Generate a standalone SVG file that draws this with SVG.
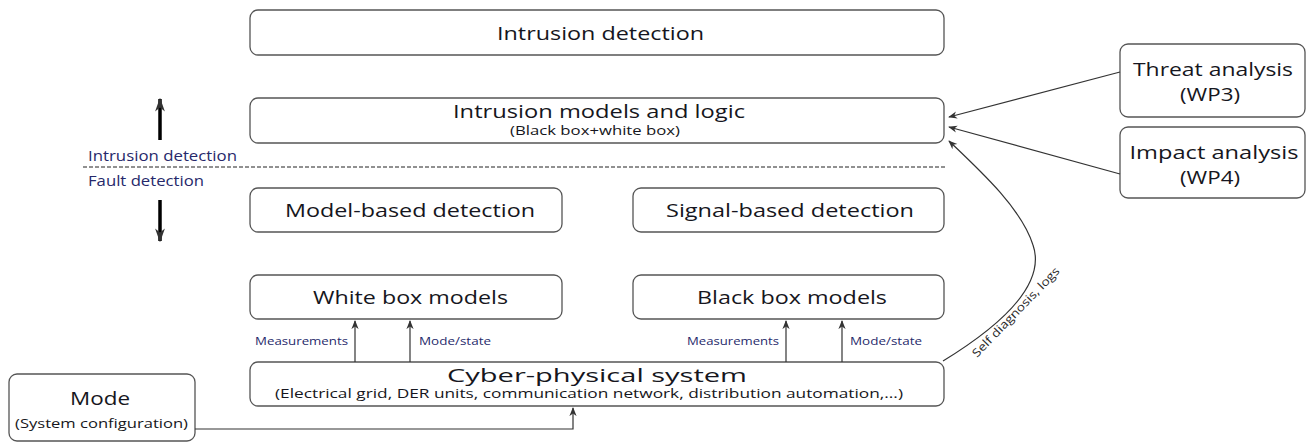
<svg xmlns="http://www.w3.org/2000/svg" width="1307" height="445" viewBox="0 0 1307 445">
  <style>
    .box { fill: #ffffff; stroke: #555555; stroke-width: 1.3; }
    .t { font-family: "Open Sans", "Noto Sans", sans-serif; fill: #161620; text-anchor: middle; }
    .big { font-size: 18.5px; }
    .sub { font-size: 12.5px; }
    .lbl { font-family: "Open Sans", "Noto Sans", sans-serif; font-size: 10.5px; fill: #1f2a6b; }
    .curve-lbl { font-family: "Open Sans", "Noto Sans", sans-serif; font-size: 11.5px; fill: #2a2a2a; }
    .side { font-family: "Open Sans", "Noto Sans", sans-serif; font-size: 14px; fill: #26286a; }
    .edge { fill: none; stroke: #333333; stroke-width: 1.2; }
    .thick { fill: none; stroke: #000000; stroke-width: 3.5; }
  </style>
  <defs>
    <marker id="arr" viewBox="0 0 10 10" refX="9" refY="5" markerWidth="9" markerHeight="9" orient="auto" markerUnits="userSpaceOnUse">
      <path d="M0,1 L10,5 L0,9 L3,5 Z" fill="#333333"/>
    </marker>
    <marker id="arrBig" viewBox="0 0 10 10" refX="9" refY="5" markerWidth="14" markerHeight="14" orient="auto" markerUnits="userSpaceOnUse">
      <path d="M0,1.5 L10,5 L0,8.5 L3,5 Z" fill="#333333"/>
    </marker>
  </defs>

  <rect width="1307" height="445" fill="#ffffff"/>

  <!-- Layer split between intrusion and fault detection -->
  <g id="layer-split">
    <line x1="83" y1="167" x2="946" y2="167" stroke="#222222" stroke-width="1" stroke-dasharray="4,2"/>
    <text class="side" x="88" y="161" textLength="149" lengthAdjust="spacingAndGlyphs">Intrusion detection</text>
    <text class="side" x="88" y="186" textLength="116" lengthAdjust="spacingAndGlyphs">Fault detection</text>
    <line class="thick" x1="160" y1="140" x2="160" y2="99" marker-end="url(#arrBig)"/>
    <line class="thick" x1="160" y1="200" x2="160" y2="241" marker-end="url(#arrBig)"/>
  </g>

  <g id="intrusion-detection">
    <rect class="box" x="250" y="10" width="694" height="45" rx="8"/>
    <text class="t big" x="600.5" y="40" textLength="207" lengthAdjust="spacingAndGlyphs">Intrusion detection</text>
  </g>

  <g id="intrusion-models">
    <rect class="box" x="250" y="98" width="694" height="45" rx="8"/>
    <text class="t big" x="599" y="118" textLength="292" lengthAdjust="spacingAndGlyphs">Intrusion models and logic</text>
    <text class="t sub" x="595" y="135" textLength="170" lengthAdjust="spacingAndGlyphs">(Black box+white box)</text>
  </g>

  <g id="model-based">
    <rect class="box" x="250" y="188" width="312" height="44" rx="8"/>
    <text class="t big" x="410" y="217" textLength="250" lengthAdjust="spacingAndGlyphs">Model-based detection</text>
  </g>

  <g id="signal-based">
    <rect class="box" x="633" y="188" width="311" height="44" rx="8"/>
    <text class="t big" x="790" y="217" textLength="248" lengthAdjust="spacingAndGlyphs">Signal-based detection</text>
  </g>

  <g id="white-box">
    <rect class="box" x="250" y="275" width="312" height="44" rx="8"/>
    <text class="t big" x="410.5" y="304" textLength="195" lengthAdjust="spacingAndGlyphs">White box models</text>
  </g>

  <g id="black-box">
    <rect class="box" x="633" y="275" width="311" height="44" rx="8"/>
    <text class="t big" x="792" y="304" textLength="190" lengthAdjust="spacingAndGlyphs">Black box models</text>
  </g>

  <g id="cps">
    <rect class="box" x="250" y="362" width="694" height="44" rx="8"/>
    <text class="t big" x="597" y="382" textLength="300" lengthAdjust="spacingAndGlyphs">Cyber-physical system</text>
    <text class="t sub" x="589" y="398" textLength="628" lengthAdjust="spacingAndGlyphs">(Electrical grid, DER units, communication network, distribution automation,...)</text>
  </g>

  <g id="mode">
    <rect class="box" x="9" y="374" width="186" height="67" rx="8"/>
    <text class="t big" x="100" y="405" textLength="60" lengthAdjust="spacingAndGlyphs">Mode</text>
    <text class="t sub" x="101.5" y="428" textLength="173" lengthAdjust="spacingAndGlyphs">(System configuration)</text>
  </g>

  <g id="threat">
    <rect class="box" x="1120" y="44" width="185" height="73" rx="8"/>
    <text class="t big" x="1213" y="76" textLength="160" lengthAdjust="spacingAndGlyphs">Threat analysis</text>
    <text class="t big" x="1210" y="101" textLength="60" lengthAdjust="spacingAndGlyphs">(WP3)</text>
  </g>

  <g id="impact">
    <rect class="box" x="1120" y="127" width="185" height="71" rx="8"/>
    <text class="t big" x="1214" y="159" textLength="169" lengthAdjust="spacingAndGlyphs">Impact analysis</text>
    <text class="t big" x="1210" y="184" textLength="60" lengthAdjust="spacingAndGlyphs">(WP4)</text>
  </g>

  <!-- Connectors -->
  <g id="connectors">
    <line class="edge" x1="355" y1="362" x2="355" y2="321" marker-end="url(#arr)"/>
    <line class="edge" x1="410" y1="362" x2="410" y2="321" marker-end="url(#arr)"/>
    <line class="edge" x1="786" y1="362" x2="786" y2="321" marker-end="url(#arr)"/>
    <line class="edge" x1="842" y1="362" x2="842" y2="321" marker-end="url(#arr)"/>
    <text class="lbl" x="255" y="345" textLength="93" lengthAdjust="spacingAndGlyphs">Measurements</text>
    <text class="lbl" x="419" y="345" textLength="72" lengthAdjust="spacingAndGlyphs">Mode/state</text>
    <text class="lbl" x="687" y="345" textLength="92" lengthAdjust="spacingAndGlyphs">Measurements</text>
    <text class="lbl" x="850" y="345" textLength="72" lengthAdjust="spacingAndGlyphs">Mode/state</text>

    <polyline class="edge" points="195,429 573,429 573,408" marker-end="url(#arr)"/>

    <line class="edge" x1="1120" y1="72" x2="949" y2="117" marker-end="url(#arr)"/>
    <line class="edge" x1="1120" y1="174" x2="949" y2="127" marker-end="url(#arr)"/>

    <path class="edge" d="M943,361 C1010,320 1045,280 1033,245 C1022,210 985,175 949,141" marker-end="url(#arr)"/>
    <text class="curve-lbl" transform="translate(977,358) rotate(-46)" textLength="120" lengthAdjust="spacingAndGlyphs">Self diagnosis, logs</text>
  </g>
</svg>
